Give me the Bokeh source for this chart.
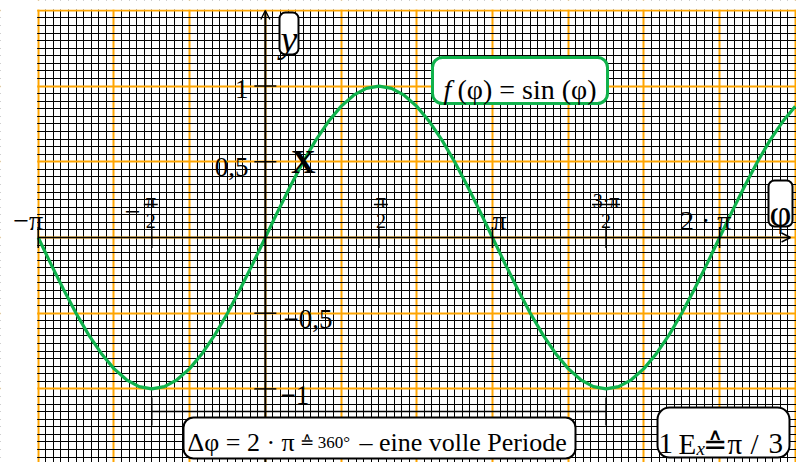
import numpy as np
from bokeh.plotting import figure
from bokeh.models import Grid, FixedTicker, BoxAnnotation, Label, Arrow, OpenHead
from bokeh.core.properties import value
from bokeh.embed import file_html
from bokeh.resources import INLINE

PI = np.pi

# ---------------- data ----------------
phi_deg = [-180, -170, -160, -150, -140, -130, -120, -110, -100, -90,
           -80, -70, -60, -50, -40, -30, -20, -10, 0,
           10, 20, 30, 40, 50, 60, 70, 80, 90,
           100, 110, 120, 130, 140, 150, 160, 170, 180,
           190, 200, 210, 220, 230, 240, 250, 260, 270,
           280, 290, 300, 310, 320, 330, 340, 350, 360,
           370, 380, 390, 400, 410, 420]
sin_vals = [0.0, -0.174, -0.342, -0.5, -0.643, -0.766, -0.866, -0.940, -0.985, -1.0,
            -0.985, -0.940, -0.866, -0.766, -0.643, -0.5, -0.342, -0.174, 0.0,
            0.174, 0.342, 0.5, 0.643, 0.766, 0.866, 0.940, 0.985, 1.0,
            0.985, 0.940, 0.866, 0.766, 0.643, 0.5, 0.342, 0.174, 0.0,
            -0.174, -0.342, -0.5, -0.643, -0.766, -0.866, -0.940, -0.985, -1.0,
            -0.985, -0.940, -0.866, -0.766, -0.643, -0.5, -0.342, -0.174, 0.0,
            0.174, 0.342, 0.5, 0.643, 0.766, 0.866]
phi_rad = [d * PI / 180 for d in phi_deg]

x_ticks = [-PI, -PI / 2, PI / 2, PI, 3 * PI / 2, 2 * PI]
x_tick_labels = ["−π", "−π/2", "π/2", "π", "3·π/2", "2 · π"]
y_ticks = [1.0, 0.5, -0.5, -1.0]
y_tick_labels = ["1", "0,5", "−0,5", "−1"]
marked_phi = [PI / 6]
marked_val = [0.5]
period = [-PI / 2, 3 * PI / 2]

# ---------------- layout ----------------
W, H = 796, 462
PX = 72.3      # px per radian
PY = 151.4     # px per unit
X0 = 37.7      # page px of phi = -pi
Y0 = 237.0     # page px of y = 0


def X(px):
    return -PI + (px - X0) / PX


def Y(py):
    return (Y0 - py) / PY


GREEN = "#10b24c"
ORANGE = "#ffa500"
FONT = "Liberation Serif"

p = figure(width=W, height=H, x_range=(X(0), X(W)), y_range=(Y(H), Y(0)),
           x_axis_type=None, y_axis_type=None, toolbar_location=None,
           output_backend="svg", title=None,
           min_border_left=0, min_border_right=0, min_border_top=0, min_border_bottom=0)
p.outline_line_color = None
p.background_fill_color = "white"
p.border_fill_color = "white"

# graph paper grid
xg = Grid(dimension=0,
          ticker=FixedTicker(ticks=[-PI + k * PI / 3 for k in range(11)],
                             minor_ticks=[-PI + k * PI / 30 for k in range(101)]),
          grid_line_color=ORANGE, grid_line_width=2,
          minor_grid_line_color="black", minor_grid_line_width=1)
yg = Grid(dimension=1,
          ticker=FixedTicker(ticks=[k * 0.5 for k in range(-3, 4)],
                             minor_ticks=[k * 0.05 for k in range(-30, 31)]),
          grid_line_color=ORANGE, grid_line_width=2,
          minor_grid_line_color="black", minor_grid_line_width=1)
p.add_layout(xg)
p.add_layout(yg)

# white margins outside the paper
p.add_layout(BoxAnnotation(left=X(0), right=X(36.6), top=Y(0), bottom=Y(H),
                           fill_color="white", fill_alpha=1.0, line_alpha=0, level="underlay"))
p.add_layout(BoxAnnotation(left=X(0), right=X(W), top=Y(0), bottom=Y(8.9),
                           fill_color="white", fill_alpha=1.0, line_alpha=0, level="underlay"))

# sine curve
p.line(phi_rad, sin_vals, line_color=GREEN, line_width=3.2)

# axes with arrows
p.add_layout(Arrow(x_start=X(37.7), y_start=0, x_end=X(790), y_end=0, line_width=1.6,
                   line_color="black", end=OpenHead(size=9, line_width=1.4)))
p.add_layout(Arrow(x_start=0, y_start=Y(H), x_end=0, y_end=Y(10), line_width=2,
                   line_color="black", end=OpenHead(size=9, line_width=1.4)))

# tick marks
tx = 10.5 / PY
p.segment(x0=x_ticks, y0=[-tx] * len(x_ticks), x1=x_ticks, y1=[tx] * len(x_ticks),
          line_color="black", line_width=1.5)
ty = 11 / PX
p.segment(x0=[-ty] * len(y_ticks), y0=y_ticks, x1=[ty] * len(y_ticks), y1=y_ticks,
          line_color="black", line_width=1.5)

# period bracket
by = Y(411)
p.segment(x0=[period[0]], y0=[by], x1=[period[1]], y1=[by], line_color="black", line_width=1.5)
p.segment(x0=period, y0=[Y(397)] * 2, x1=period, y1=[Y(425)] * 2, line_color="black", line_width=1.5)

# marked point
p.text(x=marked_phi, y=marked_val, text=["X"], text_font=value(FONT), text_font_style="bold",
       text_font_size="34px", text_align="center", text_baseline="middle", text_color="black")


def lab(text, px, py, size, align="left", style="normal", color="black"):
    p.add_layout(Label(x=X(px), y=Y(py), text=text, text_font=FONT,
                       text_font_size=f"{size}px", text_font_style=style,
                       text_align=align, text_baseline="alphabetic", text_color=color))


def box(l, r, t, b, color="black", lw=2, radius=8):
    p.add_layout(BoxAnnotation(left=X(l), right=X(r), top=Y(t), bottom=Y(b),
                               fill_color="white", fill_alpha=1.0,
                               line_color=color, line_alpha=1.0, line_width=lw,
                               border_radius=radius))


# x tick labels (page px offsets from tick position)
x_dx = [-10, -1, 2, 7, 0, -14]
for t, txt, dx in zip(x_ticks, x_tick_labels, x_dx):
    cx = X0 + (t + PI) * PX + dx
    if "/" in txt:
        num, den = txt.split("/")
        if num.startswith("−"):
            lab("−", cx - 18, 211, 28, align="center")
            num = num[1:]
        half = 7 if len(num) == 1 else 14
        p.segment(x0=[X(cx - half)], y0=[Y(204)], x1=[X(cx + half)], y1=[Y(204)],
                  line_color="black", line_width=1.6)
        lab(num, cx, 200, 20, align="center")
        lab(den, cx, 220, 20, align="center")
    else:
        lab(txt, cx, 220, 28, align="center")

# y tick labels
y_pos = [(248, 88, "right"), (248, 166, "right"), (283, 318, "left"), (280, 394, "left")]
for v, txt, (px, py, al) in zip(y_ticks, y_tick_labels, y_pos):
    lab(txt, px, py, 27, align=al)

# axis name boxes
box(279, 298, 12, 54, radius=6)
lab("y", 288.5, 38, 38, align="center", style="italic")
box(768, 792, 180, 226, radius=6)
lab("φ", 780, 212, 38, align="center")

# function box
box(432, 607, 57, 103, color=GREEN, lw=3, radius=10)
lab("f", 443, 89, 28, style="italic")
lab("(φ) = sin (φ)", 457, 89, 28)

# period box
box(183, 575, 417, 458, radius=10)
lab("Δφ = 2 · π", 187, 442, 26)
lab("≙ 360°", 299, 442, 17)
lab("– eine volle Periode", 359, 442, 26)

# unit box
box(657, 789, 407, 457, radius=12)
lab("1", 658, 443, 29)
lab("E", 678, 443, 29)
lab("x", 696, 448, 19, style="italic")
lab("≙", 714, 443, 29, align="center")
lab("π", 727, 443, 29)
lab("/", 750, 443, 29)
lab("3", 768, 443, 29)

open("out.html", "w").write(file_html(p, INLINE))
